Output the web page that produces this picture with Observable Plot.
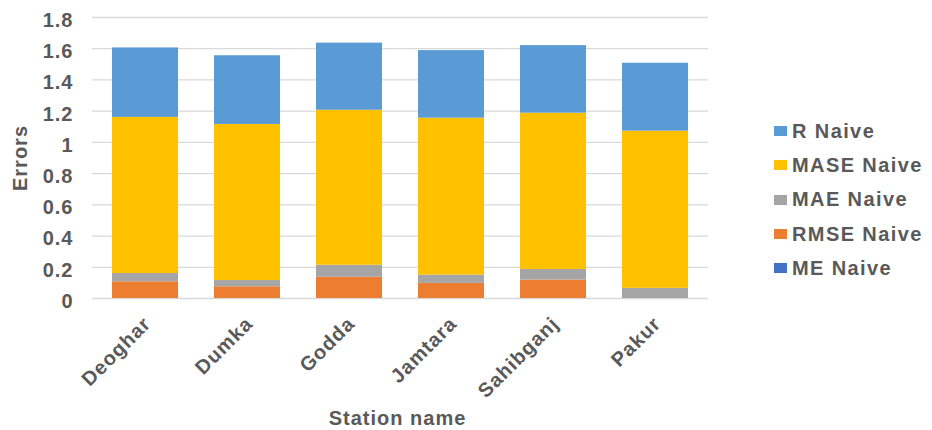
<!DOCTYPE html>
<html>
<head>
<meta charset="utf-8">
<script src="https://cdn.jsdelivr.net/npm/d3@7"></script>
<script src="https://cdn.jsdelivr.net/npm/@observablehq/plot@0.6"></script>
<style>
  body { margin: 0; background: #fff; }
  #wrap { position: relative; width: 932px; height: 430px; }
  #legend {
    position: absolute; left: 774px; top: 114px;
    font-family: "Liberation Sans", Arial, sans-serif; font-weight: bold;
    font-size: 20px; letter-spacing: 1.4px; color: #595959;
  }
  #legend .row { display: flex; align-items: center; height: 34.3px; }
  #legend .sw { width: 13px; height: 10px; margin-right: 5px; flex: none; }
</style>
</head>
<body>
<div id="wrap"></div>
<script>
// Naive-model error metrics per station (stacked, bottom to top)
const stations = ["Deoghar", "Dumka", "Godda", "Jamtara", "Sahibganj", "Pakur"];
const series = ["ME Naive", "RMSE Naive", "MAE Naive", "MASE Naive", "R Naive"];
const colors = ["#4472C4", "#ED7D31", "#A5A5A5", "#FFC000", "#5B9BD5"];

const meNaive   = [0, 0, 0, 0, 0, 0];
const rmseNaive = [0.107, 0.075, 0.136, 0.097, 0.118, 0];
const maeNaive  = [0.053, 0.040, 0.077, 0.053, 0.068, 0.065];
const maseNaive = [1.000, 1.000, 0.993, 1.005, 1.001, 1.007];
const rNaive    = [0.445, 0.440, 0.430, 0.433, 0.433, 0.435];

const yTicks = [0, 0.2, 0.4, 0.6, 0.8, 1, 1.2, 1.4, 1.6, 1.8];
const xTitle = "Station name";
const yTitle = "Errors";

const columns = [meNaive, rmseNaive, maeNaive, maseNaive, rNaive];
const rows = [];
series.forEach((s, i) => {
  stations.forEach((st, j) => rows.push({station: st, series: s, value: columns[i][j]}));
});

const chart = Plot.plot({
  width: 932,
  height: 430,
  marginLeft: 92,
  marginRight: 224,
  marginTop: 17,
  marginBottom: 132,
  style: {
    fontFamily: "'Liberation Sans', Arial, sans-serif",
    fontSize: "20px",
    fontWeight: "bold",
    letterSpacing: "1px",
    color: "#595959",
    background: "#fff",
    overflow: "visible"
  },
  x: {type: "band", domain: stations, paddingInner: 0.357, paddingOuter: 0.18},
  y: {domain: [0, 1.8]},
  color: {domain: series, range: colors},
  marks: [
    Plot.gridY(yTicks, {stroke: "#d9d9d9", strokeOpacity: 1, strokeWidth: 1.3}),
    Plot.barY(rows, {x: "station", y: "value", fill: "series"}),
    Plot.axisY({ticks: yTicks, tickSize: 0, tickPadding: 19, dy: 3, label: null,
      tickFormat: d => String(+d.toFixed(1))}),
    Plot.axisX({tickSize: 0, tickPadding: 22, tickRotate: -45, dx: 2, label: null}),
    Plot.text([xTitle], {frameAnchor: "bottom", textAnchor: "middle", lineAnchor: "middle",
      dy: 120, dx: -3, text: d => d}),
    Plot.text([yTitle], {frameAnchor: "left", textAnchor: "middle", lineAnchor: "middle",
      rotate: -90, dx: -72, text: d => d})
  ]
});

const wrap = document.getElementById("wrap");
wrap.appendChild(chart);

// Legend, listed top-down in the reverse of the stacking order
const legend = document.createElement("div");
legend.id = "legend";
series.slice().reverse().forEach(s => {
  const row = document.createElement("div");
  row.className = "row";
  const sw = document.createElement("span");
  sw.className = "sw";
  sw.style.background = colors[series.indexOf(s)];
  const label = document.createElement("span");
  label.textContent = s;
  row.append(sw, label);
  legend.appendChild(row);
});
wrap.appendChild(legend);
</script>
</body>
</html>
